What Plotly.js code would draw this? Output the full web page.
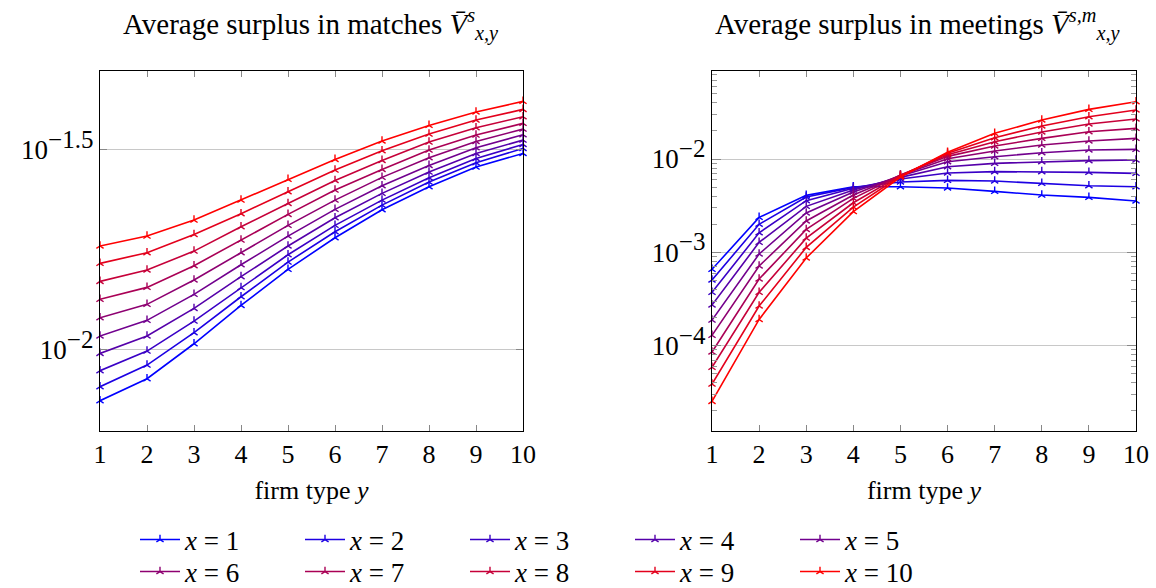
<!DOCTYPE html>
<html><head><meta charset="utf-8">
<script src="https://cdn.plot.ly/plotly-3.0.1.min.js"></script>
<style>html,body{margin:0;padding:0;background:#fff}</style>
</head><body>
<div id="chart" style="width:1156px;height:588px"></div>
<script>
// firm types (x axis)
const firmTypes = [1, 2, 3, 4, 5, 6, 7, 8, 9, 10];
// worker types (series)
const workerTypes = [1, 2, 3, 4, 5, 6, 7, 8, 9, 10];

// Left panel: average surplus in matches
const matchX1  = [0.007441, 0.008447, 0.01033, 0.01288, 0.01585, 0.01902, 0.02235, 0.02551, 0.02856, 0.03090];
const matchX2  = [0.008066, 0.009138, 0.01101, 0.01354, 0.01653, 0.01968, 0.02295, 0.02620, 0.02929, 0.03180];
const matchX3  = [0.008845, 0.009904, 0.01177, 0.01427, 0.01724, 0.02042, 0.02362, 0.02686, 0.03002, 0.03254];
const matchX4  = [0.009772, 0.01080, 0.01266, 0.01520, 0.01813, 0.02134, 0.02455, 0.02775, 0.03090, 0.03336];
const matchX5  = [0.01080, 0.01182, 0.01373, 0.01628, 0.01920, 0.02239, 0.02566, 0.02884, 0.03193, 0.03441];
const matchX6  = [0.01200, 0.01296, 0.01491, 0.01745, 0.02042, 0.02362, 0.02692, 0.03014, 0.03311, 0.03555];
const matchX7  = [0.01334, 0.01429, 0.01619, 0.01876, 0.02175, 0.02502, 0.02818, 0.03150, 0.03434, 0.03673];
const matchX8  = [0.01479, 0.01579, 0.01761, 0.02026, 0.02317, 0.02645, 0.02968, 0.03298, 0.03582, 0.03817];
const matchX9  = [0.01641, 0.01745, 0.01938, 0.02184, 0.02479, 0.02807, 0.03138, 0.03454, 0.03744, 0.03981];
const matchX10 = [0.01813, 0.01920, 0.02105, 0.02362, 0.02661, 0.02985, 0.03318, 0.03631, 0.03921, 0.04169];

// Right panel: average surplus in meetings
const meetX1  = [6.58e-4, 2.37e-3, 4.08e-3, 5.05e-3, 5.05e-3, 4.89e-3, 4.50e-3, 4.11e-3, 3.88e-3, 3.55e-3];
const meetX2  = [5.05e-4, 2.00e-3, 3.92e-3, 4.97e-3, 5.67e-3, 5.91e-3, 5.81e-3, 5.49e-3, 5.18e-3, 5.05e-3];
const meetX3  = [3.73e-4, 1.62e-3, 3.58e-3, 4.85e-3, 6.10e-3, 7.08e-3, 7.32e-3, 7.32e-3, 7.20e-3, 7.02e-3];
const meetX4  = [2.73e-4, 1.28e-3, 3.11e-3, 4.65e-3, 6.36e-3, 8.28e-3, 8.99e-3, 9.36e-3, 9.60e-3, 9.76e-3];
const meetX5  = [1.88e-4, 9.60e-4, 2.64e-3, 4.43e-3, 6.58e-3, 9.36e-3, 1.059e-2, 1.169e-2, 1.249e-2, 1.269e-2];
const meetX6  = [1.29e-4, 7.14e-4, 2.17e-3, 4.11e-3, 6.68e-3, 1.008e-2, 1.218e-2, 1.413e-2, 1.559e-2, 1.665e-2];
const meetX7  = [8.55e-5, 5.18e-4, 1.76e-3, 3.79e-3, 6.74e-3, 1.068e-2, 1.378e-2, 1.665e-2, 1.963e-2, 2.131e-2];
const meetX8  = [5.86e-5, 3.73e-4, 1.42e-3, 3.40e-3, 6.68e-3, 1.113e-2, 1.534e-2, 1.946e-2, 2.371e-2, 2.682e-2];
const meetX9  = [3.88e-5, 2.66e-4, 1.13e-3, 3.06e-3, 6.58e-3, 1.150e-2, 1.693e-2, 2.258e-2, 2.841e-2, 3.350e-2];
const meetX10 = [2.53e-5, 1.91e-4, 8.70e-4, 2.73e-3, 6.41e-3, 1.179e-2, 1.884e-2, 2.617e-2, 3.405e-2, 4.114e-2];

// tick labels
const leftTickVals  = [0.01, 0.0316228];
const leftExponents = ['\u22122', '\u22121.5'];
const rightTickVals = [1e-4, 1e-3, 1e-2];
const rightExponents = ['\u22124', '\u22123', '\u22122'];

const matches  = [matchX1, matchX2, matchX3, matchX4, matchX5, matchX6, matchX7, matchX8, matchX9, matchX10];
const meetings = [meetX1, meetX2, meetX3, meetX4, meetX5, meetX6, meetX7, meetX8, meetX9, meetX10];

const W = 1156, H = 588;
const fx = p => p / W;
const fy = p => 1 - p / H;
const FONT = 'Liberation Serif, DejaVu Serif, serif';
const powLabel = e => '10<sup><span style="font-size:25px">' + e + '</span></sup>';

const colors = workerTypes.map((k, i) => {
  const t = i / 9;
  return 'rgb(' + Math.round(255 * t) + ',0,' + Math.round(255 * (1 - t)) + ')';
});

const traces = [];
matches.forEach((vals, i) => {
  traces.push({
    type: 'scatter', mode: 'lines+markers', x: firmTypes, y: vals,
    xaxis: 'x', yaxis: 'y', name: '<i>x</i> = ' + workerTypes[i],
    legend: i < 5 ? 'legend' : 'legend2',
    line: {color: colors[i], width: 1.6},
    marker: {symbol: 'y-up', size: 6, color: colors[i], line: {color: colors[i], width: 1.4}},
    cliponaxis: false
  });
});
meetings.forEach((vals, i) => {
  traces.push({
    type: 'scatter', mode: 'lines+markers', x: firmTypes, y: vals,
    xaxis: 'x2', yaxis: 'y2', name: '<i>x</i> = ' + workerTypes[i], showlegend: false,
    line: {color: colors[i], width: 1.6},
    marker: {symbol: 'y-up', size: 6, color: colors[i], line: {color: colors[i], width: 1.4}},
    cliponaxis: false
  });
});

const minorVals = [];
[1e-5, 1e-4, 1e-3, 1e-2].forEach(d => { for (let m = 2; m <= 9; m++) minorVals.push(d * m); });

const xCommon = {
  range: [1, 10], tickmode: 'array', tickvals: firmTypes, ticks: 'inside', ticklen: 6,
  tickcolor: '#888', tickwidth: 1, showline: true, linecolor: '#000', linewidth: 1.2,
  mirror: 'ticks', showgrid: false, zeroline: false,
  tickfont: {family: FONT, size: 26, color: '#000'},
  title: {text: 'firm type <i>y</i>', font: {family: FONT, size: 26, color: '#000'}, standoff: 12}
};

const legendCommon = {
  orientation: 'h', xanchor: 'left', yanchor: 'middle',
  entrywidth: 110, entrywidthmode: 'pixels', itemwidth: 40,
  font: {family: FONT, size: 27, color: '#000'}, bgcolor: 'rgba(0,0,0,0)', borderwidth: 0
};

const layout = {
  width: W, height: H,
  margin: {l: 0, r: 0, t: 0, b: 0, autoexpand: false},
  paper_bgcolor: '#fff', plot_bgcolor: '#fff',
  font: {family: FONT, color: '#000'},
  xaxis: Object.assign({}, xCommon, {domain: [fx(100), fx(523)], anchor: 'y'}),
  xaxis2: Object.assign({}, xCommon, {domain: [fx(712), fx(1136)], anchor: 'y2'}),
  yaxis: {
    type: 'log', range: [-2.204, -1.304], domain: [fy(431), fy(71)], anchor: 'x',
    tickmode: 'array', tickvals: leftTickVals, ticktext: leftExponents.map(powLabel),
    ticks: 'inside', ticklen: 7, tickcolor: '#888', showline: true, linecolor: '#000', linewidth: 1.2,
    mirror: 'ticks', showgrid: true, gridcolor: '#c8c8c8', gridwidth: 1, zeroline: false,
    tickfont: {family: FONT, size: 27, color: '#000'}
  },
  yaxis2: {
    type: 'log', range: [-4.914, -1.057], domain: [fy(431), fy(71)], anchor: 'x2',
    tickmode: 'array', tickvals: rightTickVals, ticktext: rightExponents.map(powLabel),
    ticks: 'inside', ticklen: 9, tickcolor: '#888', showline: true, linecolor: '#000', linewidth: 1.2,
    mirror: 'ticks', showgrid: true, gridcolor: '#c8c8c8', gridwidth: 1, zeroline: false,
    tickfont: {family: FONT, size: 27, color: '#000'},
    minor: {tickmode: 'array', tickvals: minorVals, ticks: 'inside', ticklen: 5, tickcolor: '#999', showgrid: false}
  },
  legend: Object.assign({}, legendCommon, {x: fx(135), y: fy(540)}),
  legend2: Object.assign({}, legendCommon, {x: fx(135), y: fy(572)}),
  annotations: [
    {text: 'Average surplus in matches <i>V\u0304</i><sup><i>s</i></sup><sub><i>x,y</i></sub>',
     xref: 'paper', yref: 'paper', x: fx(311), y: fy(25), xanchor: 'center', yanchor: 'middle',
     showarrow: false, font: {family: FONT, size: 29, color: '#000'}},
    {text: 'Average surplus in meetings <i>V\u0304</i><sup><i>s,m</i></sup><sub><i>x,y</i></sub>',
     xref: 'paper', yref: 'paper', x: fx(918), y: fy(25), xanchor: 'center', yanchor: 'middle',
     showarrow: false, font: {family: FONT, size: 29, color: '#000'}}
  ],
  showlegend: true
};

Plotly.newPlot('chart', traces, layout, {staticPlot: true, displayModeBar: false});
</script>
</body></html>
